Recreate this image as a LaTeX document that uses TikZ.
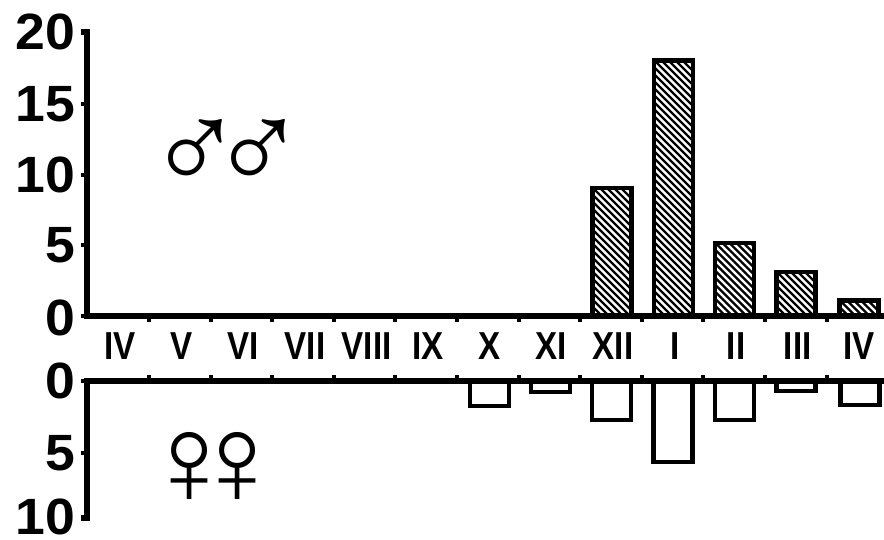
\documentclass[tikz,border=0pt]{standalone}
\usepackage{fontspec}
\usepackage{graphicx}
\setmainfont{Liberation Sans}
\newcommand\mlab[1]{\scalebox{0.85}[1]{#1}}
\newcommand\dlab[1]{\scalebox{1.05}[1]{#1}}
\newcommand\barMale[3]{% name, center x, top y
  \begin{scope}
    \clip ({#2-19.5},#3) rectangle ({#2+19.5},316);
    \foreach \d in {-300,-293,...,40}{\draw[hatch] ({#2-20+\d},#3) -- ++(320,320);}
  \end{scope}
  \draw[barline] ({#2-19.5},316) rectangle ({#2+19.5},#3);
}
\newcommand\barFemale[3]{% name, center x, bottom y
  \draw[barline] ({#2-19.5},381) rectangle ({#2+19.5},#3);
}
\begin{document}
\begin{tikzpicture}[x=1pt,y=-1pt,
  axis/.style={line width=5.5pt,line join=miter},
  tick/.style={line width=4pt},
  barline/.style={line width=4.5pt},
  hatch/.style={line width=2.4pt},
  ylab/.style={inner sep=0pt,anchor=east,font=\bfseries\fontsize{51}{51}\selectfont},
  month/.style={inner sep=0pt,font=\bfseries\fontsize{39}{39}\selectfont},
  gsym/.style={inner sep=0pt,font=\fontsize{128}{128}\selectfont}]
\useasboundingbox (0,0) rectangle (884,539);
% ---- top panel axes
\draw[axis] (81,32) -- (87,32) -- (87,316) -- (884,316);
\foreach \yy in {104,175,245,316}{\draw[tick] (81,\yy) -- (87,\yy);}
\foreach \k in {1,...,12}{\draw[tick] ({87.4+61.6*\k},316) -- ++(0,6);}
% ---- bottom panel axes
\draw[axis] (884,381) -- (87,381) -- (87,518) -- (81,518);
\foreach \yy in {381,453}{\draw[tick] (81,\yy) -- (87,\yy);}
\foreach \k in {1,...,12}{\draw[tick] ({87.4+61.6*\k},381) -- ++(0,-6);}
% ---- y labels
\node[ylab] (t20) at (75,32) {\dlab{20}};
\node[ylab] (t15) at (75,104) {\dlab{15}};
\node[ylab] (t10) at (75,175) {\dlab{10}};
\node[ylab] (t5) at (75,245) {\dlab{5}};
\node[ylab] (t0) at (75,318) {\dlab{0}};
\node[ylab] (b0) at (75,381) {\dlab{0}};
\node[ylab] (b5) at (75,453) {\dlab{5}};
\node[ylab] (b10) at (75,517) {\dlab{10}};
% ---- month labels
\foreach \m [count=\i from 0] in {IV,V,VI,VII,VIII,IX,X,XI,XII,I,II,III,IV}{
  \node[month] (m\i) at ({87.4+61.6*(\i+0.5)+2},346) {\mlab{\m}};
}
% ---- male bars
\barMale{XII}{612}{188}
\barMale{I}{673.5}{60.5}
\barMale{II}{734.5}{243}
\barMale{III}{796}{272}
\barMale{IV}{859}{300.5}
% ---- female bars
\barFemale{X}{489.5}{406}
\barFemale{XI}{550.5}{392}
\barFemale{XII}{611.5}{420}
\barFemale{I}{673}{462}
\barFemale{II}{734.5}{420}
\barFemale{III}{796}{391}
\barFemale{IV}{860}{405}
% ---- symbols
\node[gsym] (male1) at (195,155) {♂};
\node[gsym] (male2) at (258,155) {♂};
\node[gsym] (female1) at (189,468) {♀};
\node[gsym] (female2) at (237,468) {♀};
\end{tikzpicture}
\end{document}
